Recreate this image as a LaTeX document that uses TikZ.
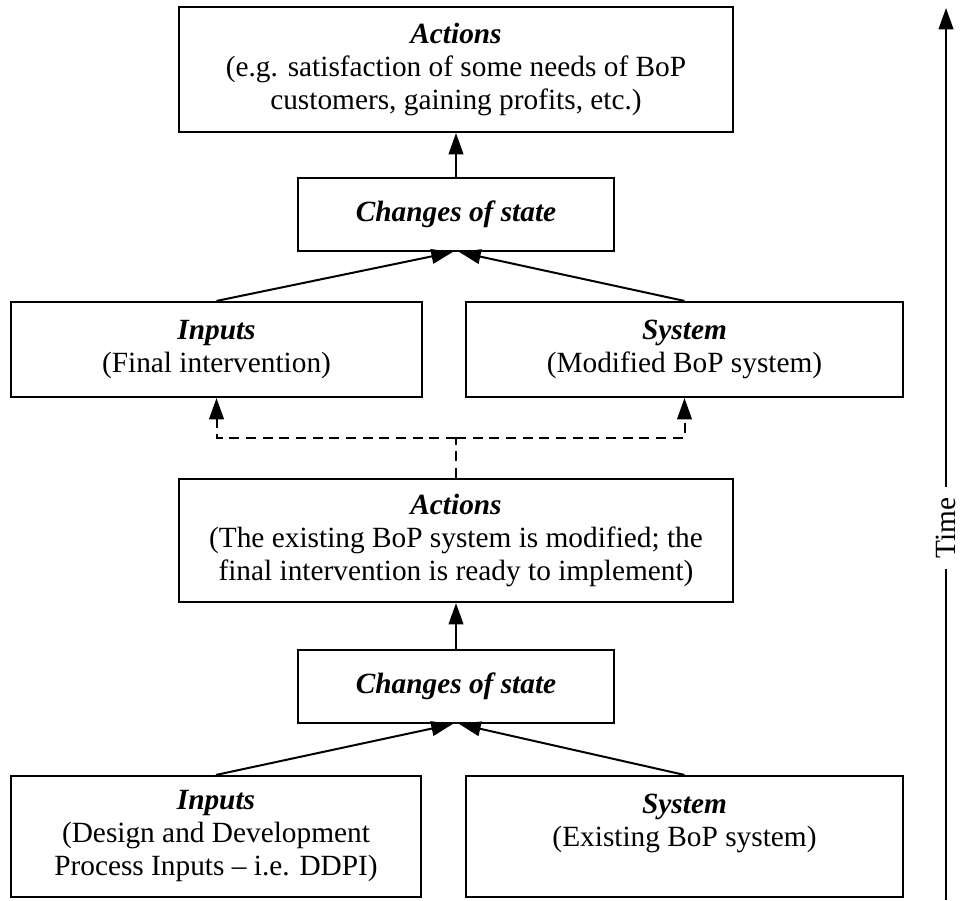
\documentclass[tikz,border=0pt]{standalone}
\usepackage{fontspec}
\setmainfont{Liberation Serif}
\usetikzlibrary{arrows.meta}
\begin{document}
\begin{tikzpicture}[x=0.75pt,y=-0.75pt,
  txt/.style={font=\fontsize{22}{24.75}\selectfont},
  box/.style={draw, line width=1.6pt, align=center, inner sep=0pt, txt},
  arr/.style={line width=1.5pt, -{Triangle[length=16pt,width=11pt]}},
  dsh/.style={line width=1.5pt, dash pattern=on 7.5pt off 5pt}
  ]
\useasboundingbox (0,0) rectangle (964,900);

\node[box, minimum width=415.5pt, minimum height=93.75pt] (a2) at (456,69.5)
  {\textbf{\textit{Actions}}\\(e.g. satisfaction of some needs of BoP\\customers, gaining profits, etc.)};
\node[box, minimum width=237pt, minimum height=54.75pt] (c2) at (456,214.5)
  {\textbf{\textit{Changes of state}}};
\node[box, minimum width=308.25pt, minimum height=71.25pt] (i2) at (216.5,349.5)
  {\textbf{\textit{Inputs}}\\(Final intervention)};
\node[box, minimum width=327.75pt, minimum height=71.25pt] (s2) at (684.5,349.5)
  {\textbf{\textit{System}}\\(Modified BoP system)};
\node[box, minimum width=415.5pt, minimum height=92.25pt] (a1) at (456,540.5)
  {\textbf{\textit{Actions}}\\(The existing BoP system is modified; the\\final intervention is ready to implement)};
\node[box, minimum width=237pt, minimum height=54.75pt] (c1) at (456,686.5)
  {\textbf{\textit{Changes of state}}};
\node[box, minimum width=307.5pt, minimum height=90.75pt] (i1) at (216,836.5)
  {\textbf{\textit{Inputs}}\\(Design and Development\\Process Inputs – i.e. DDPI)};
\node[box, minimum width=327.75pt, minimum height=90.75pt] (s1) at (684.5,836.5)
  {\textbf{\textit{System}}\\(Existing BoP system)\\\mbox{}};

% upper level arrows
\draw[arr] (c2.north) -- (a2.south);
\draw[arr] (i2.north) -- ([xshift=-2.5pt]c2.south);
\draw[arr] (s2.north) -- ([xshift=2.5pt]c2.south);

% lower level arrows
\draw[arr] (c1.north) -- (a1.south);
\draw[arr] (i1.north) -- ([xshift=-2.5pt]c1.south);
\draw[arr] (s1.north) -- ([xshift=2.5pt]c1.south);

% dashed connectors
\coordinate (j) at (456,438);
\draw[dsh] (a1.north) -- (j);
\draw[dsh, arr] (j) -| (i2.south);
\draw[dsh, arr] (j) -| (s2.south);

% time axis
\node[txt, rotate=90, inner xsep=8pt, inner ysep=0pt, text height=14pt, text depth=0pt] (time) at (946,528) {Time};
\coordinate (tb) at (946,900);
\coordinate (tt) at (946,8);
\draw[line width=1.5pt] (tb) -- (time);
\draw[arr] (time) -- (tt);
\end{tikzpicture}
\end{document}
